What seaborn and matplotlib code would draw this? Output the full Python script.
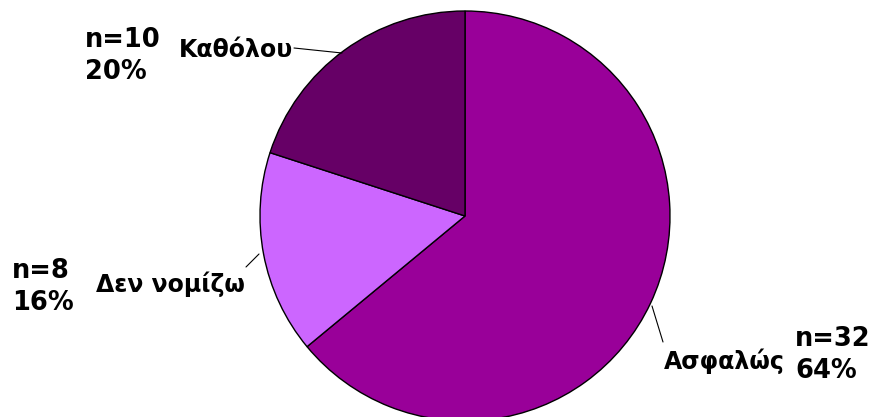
import matplotlib
matplotlib.use("Agg")
import matplotlib.pyplot as plt
import seaborn as sns

categories = ["Ασφαλώς", "Δεν νομίζω", "Καθόλου"]
counts = [32, 8, 10]
percents = [64, 16, 20]
colors = ["#990099", "#CC66FF", "#660066"]

sns.set_theme(style="white")
plt.rcParams["font.family"] = ["DejaVu Sans"]

W, H = 879, 417
fig = plt.figure(figsize=(W / 100, H / 100), dpi=100)
ax = fig.add_axes([0, 0, 1, 1])

cx, cy, R = 465, 216, 205


def px(x, y):
    return ((x - cx) / R, (cy - y) / R)


ax.pie(counts, colors=colors, startangle=90, counterclock=False, radius=1,
       wedgeprops=dict(edgecolor="black", linewidth=1.0))
ax.set_xlim(-cx / R, (W - cx) / R)
ax.set_ylim(-(H - cy) / R, cy / R)
ax.set_aspect("equal")
ax.axis("off")

layout = {
    "Ασφαλώς": dict(tx=(664, 361), ha="left", l0=(663, 342), l1=(652, 306), nx=(795, 355)),
    "Δεν νομίζω": dict(tx=(245, 284), ha="right", l0=(246, 267), l1=(259, 254), nx=(12, 287)),
    "Καθόλου": dict(tx=(293, 50), ha="right", l0=(294, 48), l1=(342, 53), nx=(85, 56)),
}

cat_fs = 17
n_fs = 18.5
for cat, n, p in zip(categories, counts, percents):
    L = layout[cat]
    ax.text(*px(*L["tx"]), cat, ha=L["ha"], va="center", fontsize=cat_fs,
            fontweight="bold", color="black")
    x0, y0 = px(*L["l0"])
    x1, y1 = px(*L["l1"])
    ax.plot([x0, x1], [y0, y1], color="black", linewidth=0.8)
    ax.text(*px(*L["nx"]), f"n={n}\n{p}%", ha="left", va="center", fontsize=n_fs,
            fontweight="bold", color="black", linespacing=1.3)

fig.savefig("out.png", dpi=100)
